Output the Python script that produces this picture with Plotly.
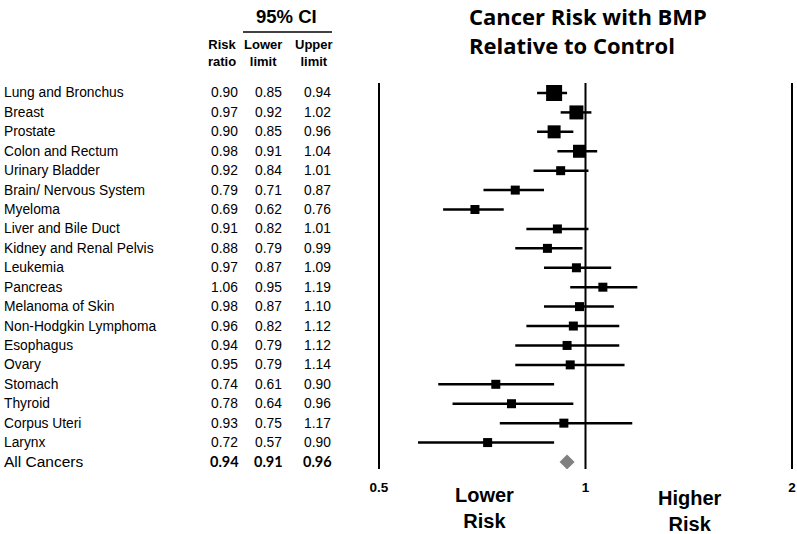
import plotly.graph_objects as go
import math

# ---- data ----
sites = ["Lung and Bronchus", "Breast", "Prostate", "Colon and Rectum", "Urinary Bladder",
         "Brain/ Nervous System", "Myeloma", "Liver and Bile Duct", "Kidney and Renal Pelvis",
         "Leukemia", "Pancreas", "Melanoma of Skin", "Non-Hodgkin Lymphoma", "Esophagus",
         "Ovary", "Stomach", "Thyroid", "Corpus Uteri", "Larynx"]
risk_ratio = [0.90, 0.97, 0.90, 0.98, 0.92, 0.79, 0.69, 0.91, 0.88, 0.97,
              1.06, 0.98, 0.96, 0.94, 0.95, 0.74, 0.78, 0.93, 0.72]
lower_limit = [0.85, 0.92, 0.85, 0.91, 0.84, 0.71, 0.62, 0.82, 0.79, 0.87,
               0.95, 0.87, 0.82, 0.79, 0.79, 0.61, 0.64, 0.75, 0.57]
upper_limit = [0.94, 1.02, 0.96, 1.04, 1.01, 0.87, 0.76, 1.01, 0.99, 1.09,
               1.19, 1.10, 1.12, 1.12, 1.14, 0.90, 0.96, 1.17, 0.90]
all_label = "All Cancers"
all_rr, all_lo, all_hi = 0.94, 0.91, 0.96
tick_vals = [0.5, 1, 2]
tick_text = ["0.5", "1", "2"]
title_text = "Cancer Risk with BMP<br>Relative to Control"

# ---- style ----
marker_px = [16, 14, 13, 13] + [9] * 15
W, H = 797, 534
TXT = "Arial, Liberation Sans, sans-serif"
BOLD2 = "Lato, Carlito, Calibri, sans-serif"
TITLEF = "Open Sans, sans-serif"

row0, dy = 93.0, 19.42
top_px, bot_px = 83.0, 469.0
rows = list(range(len(sites)))
all_row = len(sites)

def ypix(i):
    return row0 + i * dy

# x axis log scale mapping: 0.5 -> 379px, 2 -> 792px
x_l, x_r = 370.0, 797.0
pxdec = (792 - 379) / math.log10(4)
xr0 = math.log10(0.5) - (379 - x_l) / pxdec
xr1 = math.log10(2) + (x_r - 792) / pxdec

fig = go.Figure()

fig.add_trace(go.Scatter(
    x=risk_ratio, y=rows, mode="markers",
    marker=dict(symbol="square", size=marker_px, color="black", opacity=1,
                line=dict(width=0)),
    error_x=dict(type="data", symmetric=False,
                 array=[u - r for u, r in zip(upper_limit, risk_ratio)],
                 arrayminus=[r - l for r, l in zip(risk_ratio, lower_limit)],
                 color="black", thickness=2.5, width=0),
    showlegend=False, hoverinfo="skip"))

fig.add_trace(go.Scatter(
    x=[all_rr], y=[all_row], mode="markers",
    marker=dict(symbol="diamond", size=11.5, color="#808080", line=dict(width=0)),
    showlegend=False, hoverinfo="skip"))

for v in tick_vals:
    fig.add_shape(type="line", xref="x", yref="paper", x0=v, x1=v,
                  y0=1 - bot_px / H, y1=1 - top_px / H,
                  line=dict(color="black", width=2))

ann = []
def A(x, y, text, size, family=TXT, bold=False, xanchor="center", color="black", align="center"):
    if bold:
        text = "<b>" + text.replace("<br>", "</b><br><b>") + "</b>"
    ann.append(dict(xref="paper", yref="paper", x=x / W, y=1 - y / H, text=text,
                    showarrow=False, xanchor=xanchor, yanchor="middle", align=align,
                    font=dict(size=size, family=family, color=color)))

for i, s in enumerate(sites):
    y = ypix(i)
    A(2, y, s, 13.8, xanchor="left")
    A(224, y, f"{risk_ratio[i]:.2f}", 13.8)
    A(268, y, f"{lower_limit[i]:.2f}", 13.8)
    A(317, y, f"{upper_limit[i]:.2f}", 13.8)

ya = ypix(all_row)
A(2, ya, all_label, 15.5, xanchor="left")
A(224, ya, f"{all_rr:.2f}", 14.5, family=BOLD2, bold=True)
A(268, ya, f"{all_lo:.2f}", 14.5, family=BOLD2, bold=True)
A(317, ya, f"{all_hi:.2f}", 14.5, family=BOLD2, bold=True)

# headers
A(286, 17, "95% CI", 18.5, bold=True)
A(223, 53, "Risk<br>ratio", 13, bold=True)
A(263, 53, "Lower<br>limit", 13, bold=True)
A(314, 53, "Upper<br>limit", 13, bold=True)

# title
A(467, 30.5, title_text, 22, family=TITLEF, bold=True, xanchor="left", align="left")

# risk labels
A(485, 508, "Lower<br>Risk", 20, bold=True)
A(690, 511, "Higher<br>Risk", 20, bold=True)

fig.add_shape(type="line", xref="paper", yref="paper",
              x0=243 / W, x1=332 / W, y0=1 - 32 / H, y1=1 - 32 / H,
              line=dict(color="black", width=1.5))

y_top = (top_px - row0) / dy
y_bot = (bot_px - row0) / dy

fig.update_layout(
    width=W, height=H, margin=dict(l=0, r=0, t=0, b=0),
    paper_bgcolor="white", plot_bgcolor="white",
    annotations=ann,
    xaxis=dict(type="log", range=[xr0, xr1], domain=[x_l / W, x_r / W],
               tickvals=tick_vals, ticktext=["<b>" + t + "</b>" for t in tick_text],
               showgrid=False, zeroline=False,
               showline=False, ticks="", ticklabelstandoff=8,
               tickfont=dict(size=13.5, family=TXT, color="black")),
    yaxis=dict(range=[y_bot, y_top], domain=[1 - bot_px / H, 1 - top_px / H],
               showgrid=False, zeroline=False, showticklabels=False, showline=False),
)

fig.write_html("out.html", config={"displayModeBar": False},
               post_script="document.body.style.margin='0';document.body.style.padding='0';")
